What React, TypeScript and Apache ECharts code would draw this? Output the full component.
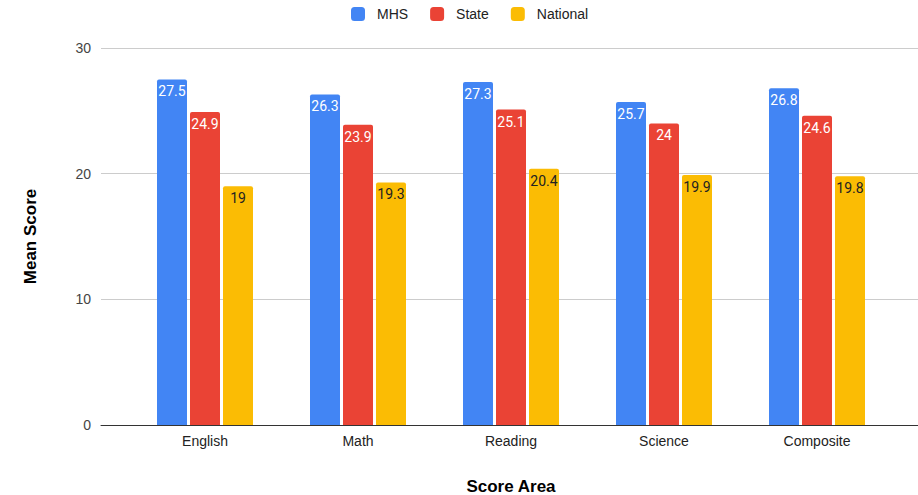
import React, { useEffect, useRef } from "react";
import * as echarts from "echarts";

const categories = ["English", "Math", "Reading", "Science", "Composite"];
const mhs = [27.5, 26.3, 27.3, 25.7, 26.8];
const state = [24.9, 23.9, 25.1, 24, 24.6];
const national = [19, 19.3, 20.4, 19.9, 19.8];
const seriesNames = ["MHS", "State", "National"];
const colors = ["#4285F4", "#EA4335", "#FBBC04"];

export default function App() {
  const ref = useRef<HTMLDivElement>(null);
  useEffect(() => {
    if (!ref.current) return;
    const chart = echarts.init(ref.current, null, { renderer: "svg" });
    const font = "Arial, 'Liberation Sans', sans-serif";
    const mk = (name: string, data: number[], color: string, labelColor: string) => ({
      name,
      type: "bar",
      xAxisIndex: 1,
      yAxisIndex: 1,
      data,
      barWidth: 30,
      barGap: "10%",
      itemStyle: { color, borderRadius: [2, 2, 0, 0] },
      label: {
        show: true,
        position: "insideTop",
        distance: 5,
        color: labelColor,
        fontFamily: "Roboto, Arial, sans-serif",
        fontSize: 14,
      },
    });
    chart.setOption({
      animation: false,
      color: colors,
      legend: {
        top: 2,
        left: 346,
        itemWidth: 14,
        itemHeight: 14,
        itemGap: 22,
        icon: "roundRect",
        textStyle: { fontFamily: font, fontSize: 14, color: "#222", padding: [0, 0, 0, 7] },
        data: seriesNames,
      },
      grid: [
        { left: 101, right: 0, top: 48, bottom: 70, outerBoundsMode: "none" },
        { left: 128.5, width: 765, top: 48, bottom: 70, outerBoundsMode: "none" },
      ],
      xAxis: [
        {
          gridIndex: 0,
          type: "value",
          min: 0,
          max: 1,
          axisLine: { show: true, lineStyle: { color: "#333", width: 1 } },
          axisTick: { show: false },
          axisLabel: { show: false },
          splitLine: { show: false },
        },
        {
          gridIndex: 1,
          type: "category",
          data: categories,
          axisLine: { show: false },
          axisTick: { show: false },
          axisLabel: { fontFamily: font, fontSize: 14, color: "#222", margin: 9 },
          name: "Score Area",
          nameLocation: "middle",
          nameGap: 53,
          nameTextStyle: { fontFamily: font, fontSize: 17, fontWeight: "bold", color: "#000" },
        },
      ],
      yAxis: [
        {
          gridIndex: 0,
          type: "value",
          min: 0,
          max: 30,
          interval: 10,
          axisLine: { show: false },
          axisTick: { show: false },
          axisLabel: { fontFamily: font, fontSize: 14, color: "#444", margin: 10 },
          splitLine: { lineStyle: { color: "#ccc", width: 1 } },
          name: "Mean Score",
          nameLocation: "middle",
          nameRotate: 90,
          nameGap: 62,
          nameTextStyle: { fontFamily: font, fontSize: 17, fontWeight: "bold", color: "#000" },
        },
        {
          gridIndex: 1,
          type: "value",
          min: 0,
          max: 30,
          interval: 10,
          show: false,
          splitLine: { show: false },
        },
      ],
      series: [
        mk(seriesNames[0], mhs, colors[0], "#fff"),
        mk(seriesNames[1], state, colors[1], "#fff"),
        mk(seriesNames[2], national, colors[2], "#222"),
      ],
    });
    return () => chart.dispose();
  }, []);
  return <div ref={ref} style={{ width: 918, height: 495, position: "absolute", left: 0, top: 0 }} />;
}
